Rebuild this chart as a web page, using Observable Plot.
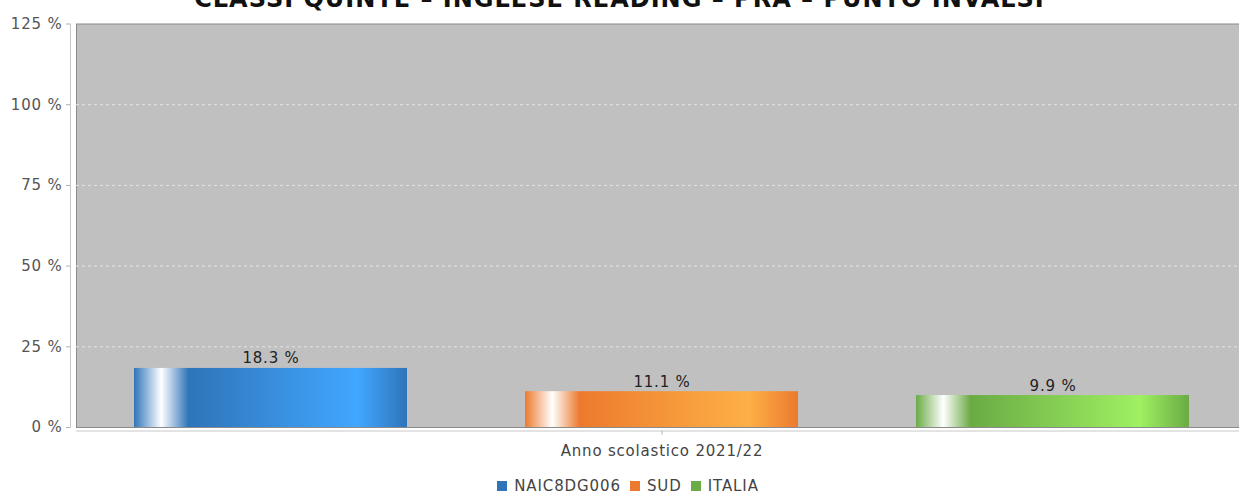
<!DOCTYPE html>
<html><head><meta charset="utf-8">
<script src="https://cdn.jsdelivr.net/npm/d3@7"></script>
<script src="https://cdn.jsdelivr.net/npm/@observablehq/plot@0.6"></script>
<style>
html,body{margin:0;padding:0;background:#fff}
body{width:1239px;height:494px;overflow:hidden;position:relative;font-family:"DejaVu Sans",sans-serif}
#chart{position:absolute;left:0;top:0}
#title{position:absolute;left:0;top:-13.3px;width:1239px;text-align:center;font-weight:bold;font-size:24px;letter-spacing:1px;line-height:1;color:#111;white-space:nowrap}
#legend{position:absolute;left:13px;top:477px;width:1239px;display:flex;justify-content:center;align-items:center;font-size:15px;letter-spacing:0.9px;color:#444;line-height:18px}
#legend .sw{display:inline-block;width:10px;height:10px;margin-right:7px}
#legend .it{display:flex;align-items:center;margin-right:9px}
</style></head><body>
<div id="chart"></div>
<div id="title"></div>
<div id="legend"></div>
<script>
const title = "CLASSI QUINTE – INGLESE READING – PRA – PUNTO INVALSI";
const period = ["Anno scolastico 2021/22"];
const series = ["NAIC8DG006", "SUD", "ITALIA"];
const values = [18.3, 11.1, 9.9];
const valueLabels = ["18.3 %", "11.1 %", "9.9 %"];
const yTicks = [0, 25, 50, 75, 100, 125];
const yTickLabels = ["0 %", "25 %", "50 %", "75 %", "100 %", "125 %"];
const baseColors = ["#2f74b9", "#ec7a2e", "#6aab45"];
const lightColors = ["#41a7ff", "#fdb046", "#9ff062"];

const data = series.map((s, i) => ({
  period: period[0], series: s, value: values[i], label: valueLabels[i], grad: `url(#grad${i})`
}));

document.getElementById("title").textContent = title;

const plot = Plot.plot({
  width: 1250, height: 470,
  marginLeft: 76, marginRight: 3, marginTop: 23.5, marginBottom: 43,
  style: {fontFamily: "DejaVu Sans", fontSize: "15px", letterSpacing: "0.8px", color: "#444", background: "transparent", maxWidth: "none", overflow: "visible"},
  fx: {domain: period, paddingInner: 0, paddingOuter: 0, label: null, axis: null},
  x: {domain: series, paddingInner: 0.302, paddingOuter: 0.148, axis: null},
  y: {domain: [0, 125], axis: null},
  color: {type: "identity"},
  marks: [
    Plot.frame({fill: "#c0c0c0", stroke: "#8a8a8a"}),
    Plot.ruleY(yTicks.filter(t => t > 0 && t < 125), {stroke: "#e4e4e4", strokeDasharray: "3,3"}),
    Plot.barY(data, {fx: "period", x: "series", y: "value", fill: "grad"}),
    Plot.text(data, {fx: "period", x: "series", y: "value", text: "label", dy: -5, lineAnchor: "bottom", fill: "#222"}),
    Plot.axisY({ticks: yTicks, tickFormat: d => yTickLabels[yTicks.indexOf(d)], dx: -6, tickSize: 4, tickPadding: 4, stroke: "#b0b0b0", fill: "#555", label: null}),
    Plot.axisFx({anchor: "bottom", tickSize: 4, tickPadding: 10, dy: 3.5, stroke: "#b0b0b0", fill: "#444", label: null}),
    Plot.frame({anchor: "left", dx: -6, stroke: "#c8c8c8"}),
    Plot.frame({anchor: "bottom", dy: 3.5, stroke: "#c8c8c8"})
  ]
});

// gradients for bars
const defs = d3.select(plot).insert("defs", ":first-child");
baseColors.forEach((c, i) => {
  const g = defs.append("linearGradient").attr("id", `grad${i}`).attr("x1", "0").attr("x2", "1").attr("y1", "0").attr("y2", "0");
  const stops = [[0, c], [0.1, "#ffffff"], [0.2, c], [0.82, lightColors[i]], [1, c]];
  stops.forEach(([o, col]) => g.append("stop").attr("offset", o).attr("stop-color", col));
});

document.getElementById("chart").appendChild(plot);

const legend = document.getElementById("legend");
series.forEach((s, i) => {
  const it = document.createElement("span");
  it.className = "it";
  const sw = document.createElement("span");
  sw.className = "sw";
  sw.style.background = baseColors[i];
  it.appendChild(sw);
  it.appendChild(document.createTextNode(s));
  legend.appendChild(it);
});
</script>
</body></html>
